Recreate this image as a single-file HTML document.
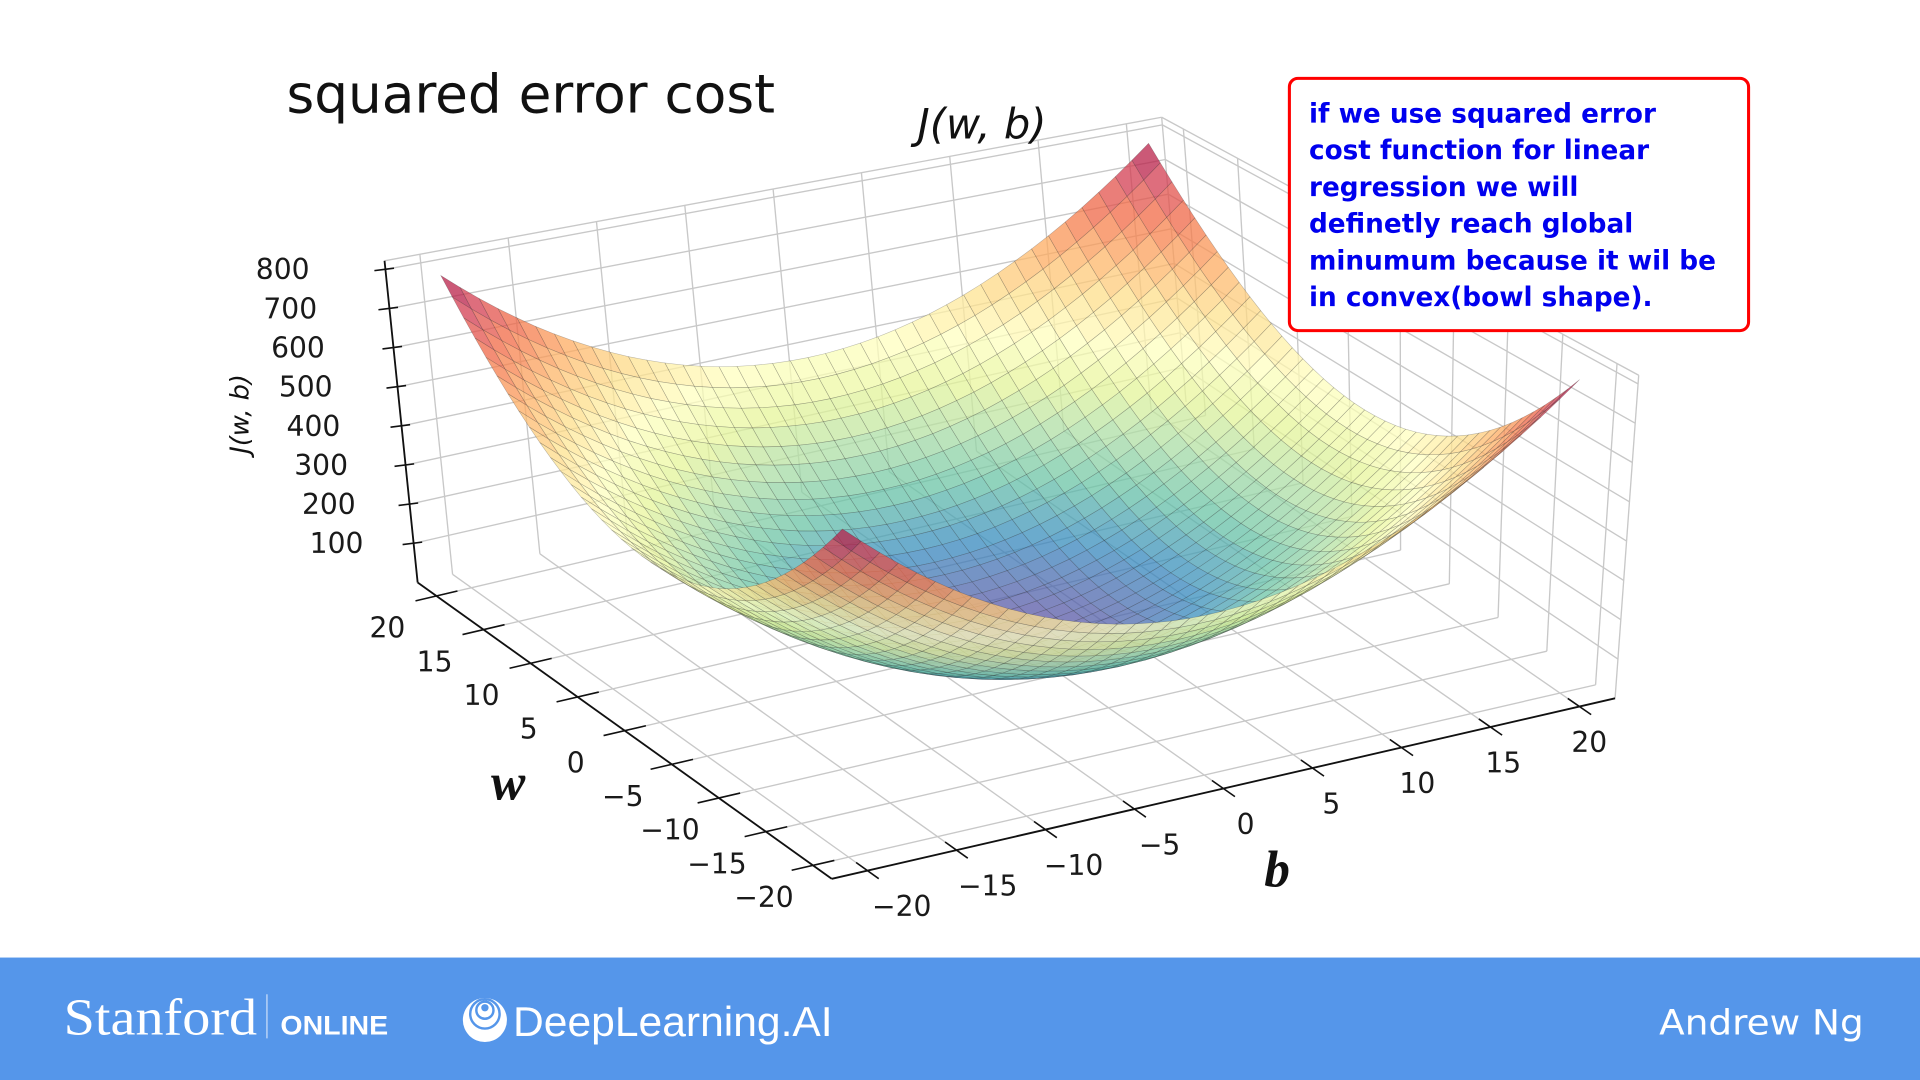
<!DOCTYPE html>
<html><head><meta charset="utf-8"><style>
html,body{margin:0;padding:0;background:#fff;width:1920px;height:1080px;overflow:hidden}
svg{display:block}
</style></head><body>
<svg id="root" width="1920" height="1080" viewBox="0 0 1568 882" xmlns="http://www.w3.org/2000/svg">
<rect x="0" y="0" width="1568" height="882" fill="#fff"/>
<g id="panes"></g>
<g id="surface"></g>
<g id="axes"></g>
<text x="234" y="92" font-family="DejaVu Sans, Liberation Sans, sans-serif" font-size="43.5" fill="#111">squared error cost</text>
<text x="802" y="113" text-anchor="middle" font-family="DejaVu Sans, sans-serif" font-style="italic" font-size="34" fill="#111">J(w, b)</text>
<text transform="translate(203,338) rotate(-90)" text-anchor="middle" font-family="DejaVu Sans, sans-serif" font-style="italic" font-size="21" fill="#111">J(w, b)</text>
<text x="415" y="653" text-anchor="middle" font-family="Liberation Serif, serif" font-style="italic" font-weight="bold" font-size="42" fill="#111">w</text>
<text x="1043" y="724" text-anchor="middle" font-family="Liberation Serif, serif" font-style="italic" font-weight="bold" font-size="42" fill="#111">b</text>
<g>
<rect x="1053" y="64" width="375" height="206" rx="7" fill="#fff" stroke="#f00" stroke-width="2.5"/>
<g font-family="DejaVu Sans, Liberation Sans, sans-serif" font-weight="bold" font-size="21.5" fill="#0000ee">
<text x="1069" y="100">if we use squared error</text>
<text x="1069" y="130">cost function for linear</text>
<text x="1069" y="160">regression we will</text>
<text x="1069" y="190">definetly reach global</text>
<text x="1069" y="220">minumum because it wil be</text>
<text x="1069" y="250">in convex(bowl shape).</text>
</g></g>
<g>
<rect x="0" y="782" width="1568" height="100" fill="#5596ea"/>
<text x="52" y="845" font-family="Liberation Serif, serif" font-size="42" textLength="158" lengthAdjust="spacingAndGlyphs" fill="#fff">Stanford</text>
<line x1="218" y1="812" x2="218" y2="848" stroke="#cfe0fa" stroke-width="1"/>
<text x="229" y="845" font-family="Liberation Sans, sans-serif" font-weight="bold" font-size="22" textLength="88" lengthAdjust="spacingAndGlyphs" fill="#fff">ONLINE</text>
<g>
<circle cx="396" cy="833" r="18" fill="#fff"/>
<circle cx="396" cy="828" r="12" fill="none" stroke="#5596ea" stroke-width="2"/>
<circle cx="396" cy="825" r="7" fill="none" stroke="#5596ea" stroke-width="2"/>
<circle cx="396" cy="823" r="3" fill="#5596ea"/>
</g>
<text x="419" y="846" font-family="Liberation Sans, sans-serif" font-size="34" textLength="261" lengthAdjust="spacingAndGlyphs" fill="#fff">DeepLearning.AI</text>
<text x="1355" y="845" font-family="DejaVu Sans, sans-serif" font-size="28" textLength="167" lengthAdjust="spacingAndGlyphs" fill="#fff">Andrew Ng</text>
</g>
</svg>
<script>
// ---- data ----
const wValues = [-20,-19,-18,-17,-16,-15,-14,-13,-12,-11,-10,-9,-8,-7,-6,-5,-4,-3,-2,-1,0,1,2,3,4,5,6,7,8,9,10,11,12,13,14,15,16,17,18,19,20];
const bValues = [-20,-19,-18,-17,-16,-15,-14,-13,-12,-11,-10,-9,-8,-7,-6,-5,-4,-3,-2,-1,0,1,2,3,4,5,6,7,8,9,10,11,12,13,14,15,16,17,18,19,20];
const wCost = [400,361,324,289,256,225,196,169,144,121,100,81,64,49,36,25,16,9,4,1,0,1,4,9,16,25,36,49,64,81,100,121,144,169,196,225,256,289,324,361,400];
const bCost = [400,361,324,289,256,225,196,169,144,121,100,81,64,49,36,25,16,9,4,1,0,1,4,9,16,25,36,49,64,81,100,121,144,169,196,225,256,289,324,361,400];
const wTicks = [-20,-15,-10,-5,0,5,10,15,20];
const bTicks = [-20,-15,-10,-5,0,5,10,15,20];
const zTicks = [100,200,300,400,500,600,700,800];
const wTickLabels = ['\u221220','\u221215','\u221210','\u22125','0','5','10','15','20'];
const bTickLabels = ['\u221220','\u221215','\u221210','\u22125','0','5','10','15','20'];
const zTickLabels = ['100','200','300','400','500','600','700','800'];

// ---- projection ----
const PF=[693,700], PR=[1274,566], PL=[385,480], PK=[956,346];
const VF=[-5,-268], VR=[16,-256], VL=[-25,-255], VK=[-18,-229];
const PAD=22, ZMAX=822, ZREF=800;
function bil(A,B,C,D,u,v){return [A[0]*(1-u)*(1-v)+B[0]*u*(1-v)+C[0]*(1-u)*v+D[0]*u*v, A[1]*(1-u)*(1-v)+B[1]*u*(1-v)+C[1]*(1-u)*v+D[1]*u*v];}
function proj(w,b,z){const u=(b+20)/40,v=(w+20)/40;const f=bil(PF,PR,PL,PK,u,v);const V=bil(VF,VR,VL,VK,u,v);return [f[0]+V[0]*z/ZREF,f[1]+V[1]*z/ZREF];}
const NS='http://www.w3.org/2000/svg';
function mk(tag,parent,attrs){const e=document.createElementNS(NS,tag);for(const k in attrs)e.setAttribute(k,attrs[k]);parent.appendChild(e);return e;}
function pt(p){return p[0].toFixed(1)+','+p[1].toFixed(1);}

// ---- panes & grid ----
const panes=document.getElementById('panes');
const GRID='#c8c8c8';
function gline(a,b,name){const l=mk('line',panes,{x1:a[0],y1:a[1],x2:b[0],y2:b[1],stroke:GRID,'stroke-width':1.1});

}
wTicks.forEach(w=>{gline(proj(w,-PAD,0),proj(w,PAD,0),'floor-gridline-w');gline(proj(w,PAD,0),proj(w,PAD,ZMAX),'wall-gridline-w');});
bTicks.forEach(b=>{gline(proj(-PAD,b,0),proj(PAD,b,0),'floor-gridline-b');gline(proj(PAD,b,0),proj(PAD,b,ZMAX),'wall-gridline-b');});
zTicks.forEach(z=>{gline(proj(PAD,-PAD,z),proj(PAD,PAD,z),'back-wall-gridline-z');gline(proj(PAD,PAD,z),proj(-PAD,PAD,z),'side-wall-gridline-z');});
gline(proj(PAD,-PAD,ZMAX),proj(PAD,PAD,ZMAX),'pane-edge');
gline(proj(PAD,PAD,ZMAX),proj(-PAD,PAD,ZMAX),'pane-edge');
gline(proj(-PAD,PAD,0),proj(-PAD,PAD,ZMAX),'pane-edge');
gline(proj(PAD,PAD,0),proj(PAD,PAD,ZMAX),'pane-edge');

// ---- colormap (Spectral_r) ----
const cmap=[[94,79,162],[50,136,189],[102,194,165],[171,221,164],[230,245,152],[255,255,191],[254,224,139],[253,174,97],[244,109,67],[213,62,79],[158,1,66]];
function color(t){t=Math.max(0,Math.min(1,t))*10;const i=Math.min(9,Math.floor(t)),f=t-i;const a=cmap[i],c=cmap[i+1];
return 'rgb('+Math.round(a[0]+(c[0]-a[0])*f)+','+Math.round(a[1]+(c[1]-a[1])*f)+','+Math.round(a[2]+(c[2]-a[2])*f)+')';}

// ---- surface ----
const surf=document.getElementById('surface');
const quads=[];
for(let i=0;i<wValues.length-1;i++){for(let j=0;j<bValues.length-1;j++){
 const z00=wCost[i]+bCost[j],z01=wCost[i]+bCost[j+1],z10=wCost[i+1]+bCost[j],z11=wCost[i+1]+bCost[j+1];
 const zm=(z00+z01+z10+z11)/4;
 quads.push({d:(wValues[i]+wValues[i+1]+bValues[j]+bValues[j+1])/4 - zm*0.004,
  pts:[proj(wValues[i],bValues[j],z00),proj(wValues[i],bValues[j+1],z01),proj(wValues[i+1],bValues[j+1],z11),proj(wValues[i+1],bValues[j],z10)],zm:zm});
}}
quads.sort((a,b)=>b.d-a.d);
const zTop=Math.max(...wCost)+Math.max(...bCost);
quads.forEach(q=>{
 const p=mk('polygon',surf,{points:q.pts.map(pt).join(' '),fill:color(q.zm/zTop),'fill-opacity':0.74,stroke:'rgba(45,45,45,0.32)','stroke-width':0.45});
 
 
});

// ---- axes ----
const axes=document.getElementById('axes');
function aline(a,b,name,w){const l=mk('line',axes,{x1:a[0],y1:a[1],x2:b[0],y2:b[1],stroke:'#111','stroke-width':w||1.5});

}
function label(p,txt,anchor,name){const t=mk('text',axes,{x:p[0].toFixed(1),y:p[1].toFixed(1),'text-anchor':anchor,'font-family':'DejaVu Sans, Liberation Sans, sans-serif','font-size':23,fill:'#1a1a1a'});
t.textContent=txt;

}
aline(proj(PAD,-PAD,0),proj(-PAD,-PAD,0),'w-axis-line');
aline(proj(-PAD,-PAD,0),proj(-PAD,PAD,0),'b-axis-line');
aline(proj(PAD,-PAD,0),proj(PAD,-PAD,ZMAX),'z-axis-line');
wTicks.forEach((w,k)=>{const a=proj(w,-PAD-1.2,0),b=proj(w,-PAD+1.2,0);aline(a,b,'w-tick',1.3);
 const p=proj(w,-PAD,0);label([p[0]-40,p[1]+34],wTickLabels[k],'middle','w-tick-label');});
bTicks.forEach((b,k)=>{const a=proj(-PAD-1.2,b,0),c=proj(-PAD+1.2,b,0);aline(a,c,'b-tick',1.3);
 const p=proj(-PAD,b,0);label([p[0]+28-0.5*(b+20),p[1]+37],bTickLabels[k],'middle','b-tick-label');});
zTicks.forEach((z,k)=>{const p=proj(PAD,-PAD,z);aline([p[0]-9,p[1]+1],[p[0]+7,p[1]-1],'z-tick',1.3);
 label([p[0]-38-0.03*z,p[1]+8],zTickLabels[k],'end','z-tick-label');});
</script>
</body></html>
